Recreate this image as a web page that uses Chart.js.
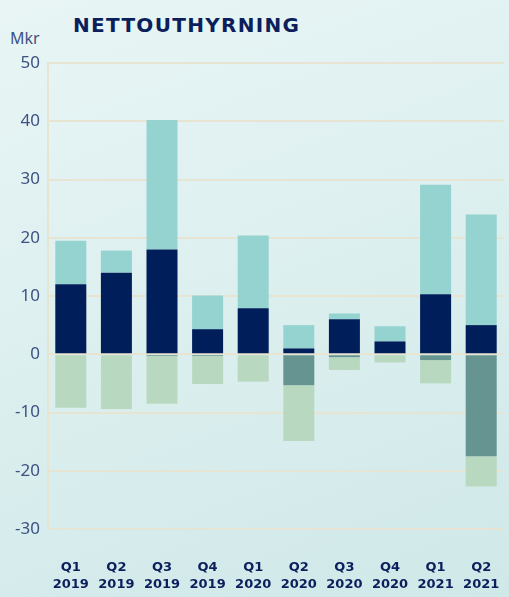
<!DOCTYPE html>
<html>
<head>
  <meta charset="utf-8">
  <title>Nettouthyrning</title>
  <script src="https://cdn.jsdelivr.net/npm/chart.js"></script>
  <style>
    html, body {
      margin: 0;
      padding: 0;
    }
    body {
      width: 509px;
      height: 597px;
      overflow: hidden;
      background: linear-gradient(160deg, #e9f5f5 0%, #dcefef 50%, #d0e8e8 100%);
      font-family: "Noto Sans", sans-serif;
      position: relative;
    }
    .title {
      position: absolute;
      left: 73px;
      top: 13px;
      font-family: "DejaVu Sans", sans-serif;
      font-weight: bold;
      font-size: 20px;
      letter-spacing: 1.3px;
      color: #0b1f5c;
    }
    .unit {
      position: absolute;
      left: 10px;
      top: 27px;
      font-size: 16px;
      color: #3c5283;
    }
    #chart {
      position: absolute;
      left: 0;
      top: 0;
    }
  </style>
</head>
<body>
  <div class="title">NETTOUTHYRNING</div>
  <div class="unit">Mkr</div>
  <canvas id="chart" width="509" height="597"></canvas>

  <script>
    const quarters = [
      ['Q1', '2019'], ['Q2', '2019'], ['Q3', '2019'], ['Q4', '2019'],
      ['Q1', '2020'], ['Q2', '2020'], ['Q3', '2020'], ['Q4', '2020'],
      ['Q1', '2021'], ['Q2', '2021']
    ];
    // positive parts (bottom to top)
    const navyValues = [12.0, 14.0, 18.0, 4.3, 7.9, 1.0, 6.0, 2.2, 10.3, 5.0];
    const tealValues = [7.5, 3.8, 22.2, 5.8, 12.5, 4.0, 1.0, 2.6, 18.8, 19.0];
    // negative parts (top to bottom)
    const darkTealValues = [0, 0, -0.3, -0.3, 0, -5.3, -0.5, 0, -1.0, -17.5];
    const greenValues = [-9.2, -9.4, -8.2, -4.8, -4.7, -9.6, -2.2, -1.4, -4.0, -5.2];
    const yTicks = [50, 40, 30, 20, 10, 0, -10, -20, -30];

    const gridColor = '#e8e4d2';

    function makeSet(data, color) {
      return {
        data: data,
        backgroundColor: color,
        borderWidth: 0,
        stack: 's',
        barPercentage: 0.68,
        categoryPercentage: 1.0
      };
    }

    new Chart(document.getElementById('chart'), {
      type: 'bar',
      data: {
        labels: quarters,
        datasets: [
          makeSet(navyValues, '#001e5a'),
          makeSet(tealValues, '#94d3cf'),
          makeSet(darkTealValues, '#659491'),
          makeSet(greenValues, '#b8d8c0')
        ]
      },
      options: {
        responsive: false,
        animation: false,
        layout: {
          padding: { top: 63, right: 5, left: 0, bottom: 0 }
        },
        plugins: {
          legend: { display: false },
          tooltip: { enabled: false }
        },
        scales: {
          x: {
            stacked: true,
            grid: { display: false },
            border: { display: false },
            ticks: {
              color: '#0b1f5c',
              font: { family: 'DejaVu Sans', size: 13, weight: 'bold', lineHeight: 1.3 },
              maxRotation: 0,
              autoSkip: false,
              padding: 22
            },
            afterFit: function(scale) {
              scale.height = 68;
              scale.paddingLeft = 0;
              scale.paddingRight = 0;
            }
          },
          y: {
            stacked: true,
            min: -30,
            max: 50,
            afterBuildTicks: function(scale) {
              scale.ticks = yTicks.map(v => ({ value: v }));
            },
            grid: {
              color: gridColor,
              lineWidth: 2,
              drawTicks: false
            },
            border: { display: true, color: gridColor, width: 2 },
            ticks: {
              color: '#3c5283',
              font: { family: 'Noto Sans', size: 17 },
              padding: 8
            },
            afterFit: function(scale) { scale.width = 48; }
          }
        }
      }
    });
  </script>
</body>
</html>
